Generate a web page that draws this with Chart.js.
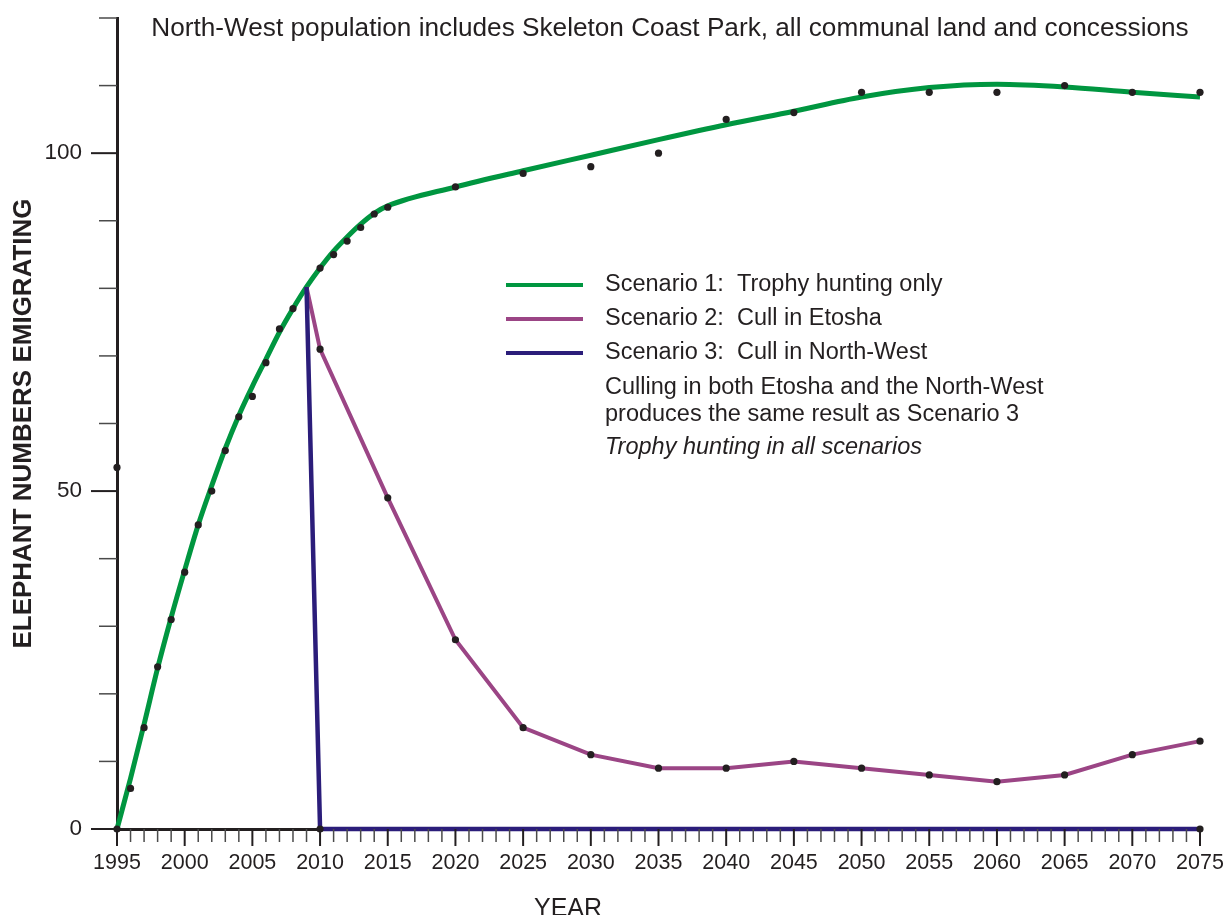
<!DOCTYPE html>
<html>
<head>
<meta charset="utf-8">
<script src="https://cdn.jsdelivr.net/npm/chart.js@4.4.1/dist/chart.umd.min.js"></script>
<style>
  html, body { margin: 0; padding: 0; background: #fff; }
  #wrap { width: 1225px; height: 915px; }
</style>
</head>
<body>
<div id="wrap"><canvas id="chart" width="1225" height="915"></canvas></div>
<script>
// ========== Data ==========
const chartTitle = "North-West population includes Skeleton Coast Park, all communal land and concessions";
const xTitle = "YEAR";
const yTitle = "ELEPHANT NUMBERS EMIGRATING";
const yLabeled = [0, 50, 100];

const scenarioLabels = [
  "Scenario 1:  Trophy hunting only",
  "Scenario 2:  Cull in Etosha",
  "Scenario 3:  Cull in North-West",
];
const legendNotes = [
  "Culling in both Etosha and the North-West",
  "produces the same result as Scenario 3",
];
const legendItalicNote = "Trophy hunting in all scenarios";

// Scenario 1 fitted curve
const s1Years = [1995, 1996, 1997, 1998, 1999, 2000, 2001, 2002, 2003, 2004, 2005,
  2006, 2007, 2008, 2009, 2010, 2011, 2012, 2013, 2014, 2015,
  2020, 2025, 2030, 2035, 2040, 2045, 2050, 2055, 2060, 2065, 2070, 2075];
const s1Values = [0, 7.5, 15.5, 23.8, 31.3, 38.3, 45, 50.8, 56.3, 61.2, 65.5,
  69.5, 73.5, 77, 80.2, 83, 85.5, 87.6, 89.5, 91.1, 92.2,
  95, 97.4, 99.7, 102, 104.2, 106.2, 108.3, 109.7, 110.2, 109.8, 109, 108.3];

// Scenario 2: cull in Etosha
const s2Years = [2009, 2010, 2015, 2020, 2025, 2030, 2035, 2040, 2045, 2050, 2055, 2060, 2065, 2070, 2075];
const s2Values = [80.2, 71, 49, 28, 15, 11, 9, 9, 10, 9, 8, 7, 8, 11, 13];

// Scenario 3: cull in North-West
const s3Years = [2009, 2010, 2075];
const s3Values = [80.2, 0, 0];

// model output points (black dots)
const dotYears = [1995, 1995, 1996, 1997, 1998, 1999, 2000, 2001, 2002, 2003, 2004, 2005,
  2006, 2007, 2008, 2010, 2011, 2012, 2013, 2014, 2015,
  2020, 2025, 2030, 2035, 2040, 2045, 2050, 2055, 2060, 2065, 2070, 2075,
  2010, 2015, 2020, 2025, 2030, 2035, 2040, 2045, 2050, 2055, 2060, 2065, 2070, 2075,
  2010, 2075];
const dotValues = [0, 53.5, 6, 15, 24, 31, 38, 45, 50, 56, 61, 64,
  69, 74, 77, 83, 85, 87, 89, 91, 92,
  95, 97, 98, 100, 105, 106, 109, 109, 109, 110, 109, 109,
  71, 49, 28, 15, 11, 9, 9, 10, 9, 8, 7, 8, 11, 13,
  0, 0];

// ========== Styles ==========
const GREEN = "#009640";
const PURPLE = "#9b4585";
const NAVY = "#2b1d7a";
const INK = "#231f20";
const FONT = "'Liberation Sans', Arial, sans-serif";

const pts = (xs, ys) => xs.map((x, i) => ({ x, y: ys[i] }));

// ========== Tick marks of different lengths ==========
const tickMarks = {
  id: "tickMarks",
  afterDraw(chart) {
    const c = chart.ctx;
    const xs = chart.scales.x;
    const ys = chart.scales.y;
    const area = chart.chartArea;
    c.save();
    xs.ticks.forEach((t) => {
      const px = xs.getPixelForValue(t.value);
      const major = t.value % 5 === 0;
      c.beginPath();
      c.strokeStyle = major ? INK : "#4a4a4a";
      c.lineWidth = major ? 2 : 1.5;
      c.moveTo(px, area.bottom);
      c.lineTo(px, area.bottom + (major ? 17 : 13));
      c.stroke();
    });
    ys.ticks.forEach((t) => {
      const py = ys.getPixelForValue(t.value);
      const major = yLabeled.includes(t.value);
      c.beginPath();
      c.strokeStyle = major ? INK : "#4a4a4a";
      c.lineWidth = major ? 2 : 1.5;
      c.moveTo(area.left - (major ? 26 : 18), py);
      c.lineTo(area.left, py);
      c.stroke();
    });
    c.restore();
  },
};

// ========== Title, x title and legend box ==========
const annotations = {
  id: "annotations",
  afterDraw(chart) {
    const c = chart.ctx;
    c.save();
    c.fillStyle = INK;
    c.textBaseline = "middle";

    c.font = `26.2px ${FONT}`;
    c.textAlign = "center";
    c.fillText(chartTitle, 670, 29);

    c.font = `25px ${FONT}`;
    c.textBaseline = "alphabetic";
    c.fillText(xTitle, 568, 916);

    // legend
    c.textAlign = "left";
    c.textBaseline = "middle";
    c.font = `23.5px ${FONT}`;
    const rows = [285, 319, 353];
    chart.data.datasets.slice(0, 3).forEach((ds, i) => {
      c.beginPath();
      c.strokeStyle = ds.borderColor;
      c.lineWidth = 4;
      c.moveTo(506, rows[i]);
      c.lineTo(583, rows[i]);
      c.stroke();
      c.fillText(ds.label, 605, rows[i]);
    });
    legendNotes.forEach((t, i) => c.fillText(t, 605, 388 + i * 26.5));
    c.font = `italic 23.5px ${FONT}`;
    c.fillText(legendItalicNote, 605, 447);
    c.restore();
  },
};

// ========== Chart ==========
const ctx = document.getElementById("chart").getContext("2d");
new Chart(ctx, {
  type: "line",
  data: {
    datasets: [
      {
        label: scenarioLabels[0],
        data: pts(s1Years, s1Values),
        borderColor: GREEN,
        borderWidth: 5,
        pointRadius: 0,
        cubicInterpolationMode: "monotone",
        clip: false,
        order: 3,
      },
      {
        label: scenarioLabels[1],
        data: pts(s2Years, s2Values),
        borderColor: PURPLE,
        borderWidth: 4,
        pointRadius: 0,
        tension: 0,
        clip: false,
        order: 2,
      },
      {
        label: scenarioLabels[2],
        data: pts(s3Years, s3Values),
        borderColor: NAVY,
        borderWidth: 4.5,
        pointRadius: 0,
        tension: 0,
        clip: false,
        order: 1,
      },
      {
        label: "model points",
        type: "scatter",
        data: pts(dotYears, dotValues),
        backgroundColor: INK,
        borderWidth: 0,
        pointRadius: 3.6,
        showLine: false,
        clip: false,
        order: 0,
      },
    ],
  },
  options: {
    responsive: false,
    animation: false,
    layout: { padding: { top: 18, right: 25, left: 0, bottom: 0 } },
    plugins: {
      legend: { display: false },
      tooltip: { enabled: false },
      title: { display: false },
    },
    scales: {
      x: {
        type: "linear",
        min: 1995,
        max: 2075,
        ticks: {
          stepSize: 1,
          autoSkip: false,
          maxRotation: 0,
          padding: 21,
          color: INK,
          font: { family: FONT, size: 21.5 },
          callback: (v) => (v % 5 === 0 ? String(v) : ""),
        },
        grid: { display: false, drawTicks: false },
        border: { display: true, color: INK, width: 3 },
        afterFit: (s) => {
          s.height = 86;
          s.paddingLeft = 0;
          s.paddingRight = 0;
        },
      },
      y: {
        min: 0,
        max: 120,
        ticks: {
          stepSize: 10,
          padding: 35,
          color: INK,
          font: { family: FONT, size: 22.5 },
          callback: (v) => (yLabeled.includes(v) ? String(v) : ""),
        },
        grid: { display: false, drawTicks: false },
        border: { display: true, color: INK, width: 3 },
        title: {
          display: true,
          text: yTitle,
          color: INK,
          font: { family: FONT, size: 26, weight: "bold" },
          padding: { top: 8, bottom: 0 },
        },
        afterFit: (s) => {
          s.width = 117;
          s.paddingTop = 0;
          s.paddingBottom = 0;
        },
      },
    },
  },
  plugins: [tickMarks, annotations],
});
</script>
</body>
</html>
